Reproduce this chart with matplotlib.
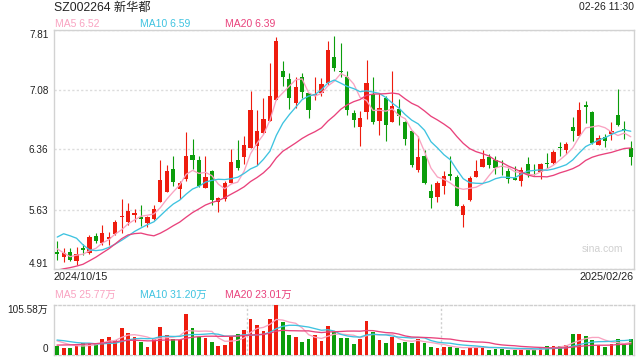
import numpy as np
import pandas as pd
import matplotlib
matplotlib.use("Agg")
import matplotlib.pyplot as plt

plt.rcParams['font.family'] = ['Liberation Sans', 'Noto Sans CJK SC', 'DejaVu Sans']

# ---------------- data ----------------
title = "SZ002264 新华都"
timestamp = "02-26 11:30"
date_labels = ["2024/10/15", "2025/02/26"]

opens = [5.116, 5.059, 5.112, 5.011, 5.169, 5.108, 5.310, 5.225, 5.278, 5.338,
         5.545, 5.480, 5.569, 5.545, 5.472, 5.520, 5.727, 5.848, 6.123, 5.884,
         6.006, 6.293, 6.232, 5.893, 6.095, 5.727, 5.763, 5.953, 6.232, 6.273,
         6.378, 6.406, 6.560, 6.710, 6.964, 7.312, 7.215, 6.928, 7.239, 7.045,
         7.005, 7.045, 7.167, 7.482, 7.312, 7.235, 6.803, 6.637, 6.811, 7.033,
         6.710, 6.985, 6.697, 6.851, 6.693, 6.588, 6.107, 6.281, 5.856, 5.787,
         5.921, 6.066, 6.026, 5.569, 5.751, 6.030, 6.151, 6.269, 6.236, 6.155,
         6.095, 6.018, 5.982, 6.184, 6.107, 6.087, 6.196, 6.196, 6.394, 6.358,
         6.633, 6.528, 6.900, 6.815, 6.418, 6.511, 6.548, 6.774, 6.608, 6.378]
highs = [5.254, 5.164, 5.164, 5.181, 5.213, 5.318, 5.342, 5.444, 5.355, 5.508,
         5.755, 5.711, 5.638, 5.682, 5.549, 5.682, 6.228, 6.176, 6.281, 5.982,
         6.568, 6.487, 6.277, 6.277, 6.115, 5.779, 5.973, 6.366, 6.475, 6.519,
         7.070, 6.839, 6.981, 7.413, 7.725, 7.434, 7.284, 7.243, 7.284, 7.045,
         7.239, 7.227, 7.672, 7.733, 7.656, 7.308, 6.843, 6.823, 7.442, 7.235,
         7.045, 7.005, 7.308, 6.972, 6.701, 6.588, 6.528, 6.350, 5.945, 5.973,
         6.095, 6.277, 6.054, 5.702, 6.034, 6.228, 6.354, 6.309, 6.277, 6.228,
         6.135, 6.155, 6.147, 6.265, 6.184, 6.192, 6.317, 6.350, 6.447, 6.451,
         6.750, 6.936, 6.952, 6.823, 6.532, 6.548, 6.689, 7.094, 6.701, 6.459]
lows = [5.023, 4.991, 5.011, 4.954, 5.084, 5.096, 5.225, 5.205, 5.205, 5.318,
        5.347, 5.448, 5.476, 5.435, 5.415, 5.508, 5.727, 5.844, 5.917, 5.763,
        5.973, 6.123, 5.905, 5.893, 5.690, 5.597, 5.731, 5.953, 6.115, 6.184,
        6.378, 6.176, 6.548, 6.710, 6.964, 7.126, 6.851, 6.867, 6.985, 6.742,
        6.964, 7.005, 7.138, 7.316, 7.243, 6.782, 6.629, 6.398, 6.734, 6.673,
        6.540, 6.459, 6.697, 6.661, 6.418, 6.143, 6.087, 5.945, 5.650, 5.727,
        5.824, 5.994, 5.670, 5.419, 5.739, 6.030, 6.143, 6.135, 6.066, 6.054,
        5.949, 5.986, 5.913, 6.026, 6.054, 6.006, 6.135, 6.188, 6.277, 6.309,
        6.459, 6.528, 6.681, 6.426, 6.418, 6.390, 6.471, 6.641, 6.491, 6.176]
closes = [5.092, 5.104, 5.023, 5.092, 5.136, 5.298, 5.254, 5.347, 5.294, 5.480,
          5.557, 5.613, 5.585, 5.516, 5.541, 5.638, 5.990, 6.099, 5.961, 5.953,
          6.285, 6.236, 5.915, 6.026, 5.751, 5.771, 5.953, 6.208, 6.135, 6.414,
          6.839, 6.580, 6.730, 7.005, 7.680, 7.239, 6.985, 7.118, 7.061, 6.843,
          7.033, 7.154, 7.567, 7.349, 7.300, 6.843, 6.722, 6.742, 7.167, 6.693,
          6.863, 6.661, 6.883, 6.770, 6.491, 6.176, 6.269, 5.957, 5.775, 5.953,
          6.038, 6.042, 5.678, 5.674, 6.014, 6.103, 6.244, 6.176, 6.135, 6.143,
          6.006, 5.994, 6.107, 6.054, 6.095, 6.184, 6.184, 6.329, 6.378, 6.426,
          6.588, 6.839, 6.879, 6.439, 6.499, 6.467, 6.580, 6.661, 6.592, 6.273]
# closes of the 19 sessions before the window (needed for the moving averages)
prior_closes = [4.72, 4.75, 4.72, 4.69, 4.45, 4.38, 4.32, 4.30, 4.28, 4.29,
                4.70, 5.27, 5.39, 5.94, 5.90, 5.35, 5.25, 5.00, 5.08]

volumes = [18.8, 14.6, 14.6, 18.8, 23.8, 24.6, 22.4, 33.8, 38.1, 31.0,
           57.4, 46.7, 38.1, 27.4, 16.7, 32.4, 59.5, 42.4, 33.8, 31.0,
           87.4, 57.4, 38.1, 36.0, 27.4, 18.8, 21.0, 39.5, 44.5, 53.1,
           76.7, 63.8, 51.0, 76.7, 105.58, 70.2, 42.4, 38.1, 27.4, 33.8,
           42.4, 29.5, 61.7, 48.8, 36.0, 36.0, 23.1, 33.8, 72.4, 48.8,
           31.7, 25.3, 38.1, 25.3, 27.4, 25.3, 33.8, 25.3, 16.7, 14.6,
           16.7, 16.7, 14.6, 10.3, 16.7, 16.7, 18.8, 10.3, 12.4, 12.4,
           10.3, 10.3, 10.3, 10.3, 10.3, 14.6, 18.8, 18.8, 18.8, 21.0,
           44.5, 44.5, 40.3, 31.7, 21.0, 16.7, 23.1, 33.8, 21.0, 33.8]  # 万
prior_volumes = [9, 10, 9, 9, 10, 9, 9, 10, 9, 9,
                 28, 35, 38, 34, 27, 36, 34, 30, 27]

price_ticks = [4.91, 5.63, 6.36, 7.08, 7.81]
vol_ticks = [0, 105.58]
vol_tick_labels = ["0", "105.58万"]

ma_periods = [5, 10, 20]
ma_price_labels = ["6.52", "6.59", "6.39"]
ma_vol_labels = ["25.77万", "31.20万", "23.01万"]

# ---------------- style ----------------
UP = '#ee1c0e'
DOWN = '#0b9d0b'
MA_COLORS = ['#f9a3c1', '#3ec3e0', '#e9427c']
SPINE = '#d2d2d2'
GRID = '#dcdcdc'
TXT = '#222222'

W, H = 640, 360
fig = plt.figure(figsize=(W / 100, H / 100), dpi=100)
L, R = 54, 634
ax = fig.add_axes([L / W, 1 - 269 / H, (R - L) / W, (269 - 30) / H])
axv = fig.add_axes([L / W, 1 - 354.5 / H, (R - L) / W, (354.5 - 305) / H])

n = len(closes)
x = np.arange(n)
o = np.array(opens); c = np.array(closes); hi = np.array(highs); lo = np.array(lows)
up = c >= o
cols = np.where(up, UP, DOWN)

# wicks + bodies
ax.vlines(x, lo, hi, colors=cols, linewidth=0.8, zorder=2)
body_h = np.maximum(np.abs(c - o), 0.012)
ax.bar(x, body_h, bottom=np.minimum(o, c), width=0.66, color=cols, linewidth=0, zorder=3)

# moving averages
all_close = pd.Series(prior_closes + closes)
all_vol = pd.Series(prior_volumes + volumes)
for p, col in zip(ma_periods, MA_COLORS):
    ma = all_close.rolling(p).mean().values[-n:]
    ax.plot(x, ma, color=col, lw=0.95, zorder=4, solid_capstyle='round')
    mav = all_vol.rolling(p).mean().values[-n:]
    axv.plot(x, mav, color=col, lw=0.95, zorder=4)

ax.set_xlim(-0.5, n - 0.5)
ax.set_ylim(price_ticks[0], price_ticks[-1])
ax.set_yticks(price_ticks)
ax.set_yticklabels([f"{t:.2f}" for t in price_ticks])
ax.set_xticks([])
ax.tick_params(axis='y', length=0, pad=4, labelsize=7.2, colors=TXT)
ylabs = ax.get_yticklabels()
ylabs[0].set_va('bottom')
ylabs[-1].set_va('top')
ax.yaxis.grid(True, color=GRID, lw=1.0, linestyle=(0, (1.6, 1.6)))
ax.set_axisbelow(True)
for s in ax.spines.values():
    s.set_color(SPINE)
    s.set_linewidth(1.0)

# volume
vcols = cols
axv.bar(x, volumes, width=0.6, color=vcols, linewidth=0, zorder=3)
axv.set_xlim(-0.5, n - 0.5)
axv.set_ylim(vol_ticks[0], vol_ticks[-1])
axv.set_yticks(vol_ticks)
axv.set_yticklabels(vol_tick_labels)
axv.set_xticks([])
axv.tick_params(axis='y', length=0, pad=4, labelsize=7.2, colors=TXT)
vlabs = axv.get_yticklabels()
vlabs[0].set_va('bottom')
vlabs[-1].set_va('top')
for k in (1, 2):
    axv.axvline(n * k / 3 - 0.5, color='#cfcfcf', lw=1.0, linestyle=(0, (1.6, 1.6)), zorder=1)
for side in ('top', 'bottom'):
    axv.spines[side].set_color('#cfcfcf')
    axv.spines[side].set_linestyle((0, (1.6, 1.6)))
    axv.spines[side].set_linewidth(1.0)
for side in ('left', 'right'):
    axv.spines[side].set_color(SPINE)
    axv.spines[side].set_linewidth(1.0)

# texts
fig.text(L / W, 1 - 7.5 / H, title, fontsize=8.8, color=TXT, ha='left', va='center')
fig.text(R / W, 1 - 7.5 / H, timestamp, fontsize=7.5, color=TXT, ha='right', va='center')
label_x = [55, 140, 225]
for p, col, val, xx in zip(ma_periods, MA_COLORS, ma_price_labels, label_x):
    fig.text(xx / W, 1 - 24 / H, f"MA{p} {val}", fontsize=7.5, color=col, ha='left', va='center')
for p, col, val, xx in zip(ma_periods, MA_COLORS, ma_vol_labels, label_x):
    fig.text(xx / W, 1 - 295 / H, f"MA{p} {val}", fontsize=7.5, color=col, ha='left', va='center')
fig.text(L / W, 1 - 277 / H, date_labels[0], fontsize=7.8, color=TXT, ha='left', va='center')
fig.text(R / W, 1 - 277 / H, date_labels[1], fontsize=7.8, color=TXT, ha='right', va='center')
ax.text(0.981, 0.082, "sina.com", transform=ax.transAxes, fontsize=7.5,
        color='#d0d0d0', ha='right', va='center')

fig.savefig("out.png", dpi=100)
